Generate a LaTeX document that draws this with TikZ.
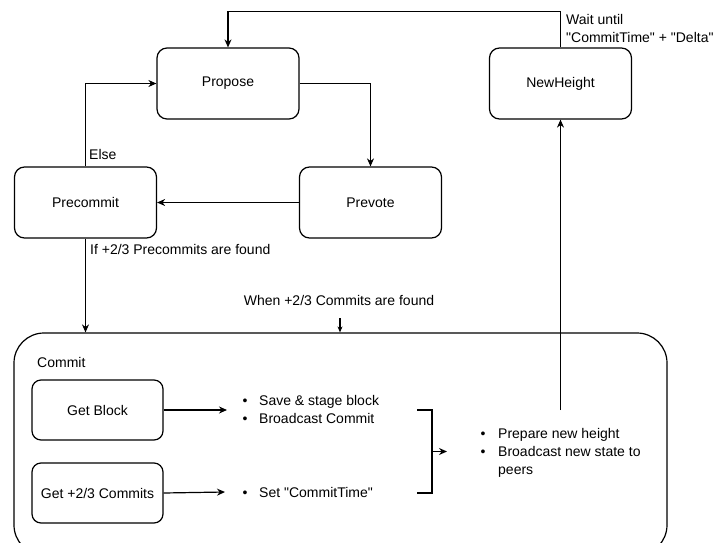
\documentclass[tikz,border=0pt]{standalone}
\usepackage{fontspec}
\setmainfont{Liberation Sans}
\usetikzlibrary{arrows.meta}
\newcommand{\sq}{\textquotedbl}
\begin{document}
\begin{tikzpicture}[x=1pt,y=-1pt,
  state/.style={draw, rounded corners=10pt, line width=1.2pt, minimum width=142pt, minimum height=71pt, font=\fontsize{14}{17}\selectfont},
  sub/.style={draw, rounded corners=9pt, line width=1.2pt, minimum width=131pt, minimum height=60pt, font=\fontsize{14}{17}\selectfont},
  lbl/.style={font=\fontsize{14}{18}\selectfont, inner sep=0pt, anchor=west, align=left},
  conn/.style={line width=1.2pt, -{Stealth[length=8pt,width=7pt]}},
  plain/.style={line width=1.2pt},
]
\useasboundingbox (0,0) rectangle (716,542);
\begin{scope}
\clip (0,0) rectangle (716,542);
\node[draw, rounded corners=30pt, line width=1.2pt, minimum width=653pt, minimum height=222pt] (commit) at (340.5,444) {};
\end{scope}

\node[state] (propose) at (228,83.5) {Propose};
\node[state] (newheight) at (560.5,83.5) {NewHeight};
\node[state] (precommit) at (85.5,202.5) {Precommit};
\node[state] (prevote) at (370.5,202.5) {Prevote};

\node[sub] (getblock) at (97.5,410) {Get Block};
\node[sub] (getcommits) at (97.5,493) {Get +2/3 Commits};

\node[lbl] (commitlbl) at (37,362) {Commit};
\node[lbl] (wait) at (566,28) {Wait until\\\sq CommitTime\sq{} + \sq Delta\sq};
\node[lbl] (else) at (89,154) {Else};
\node[lbl] (iflbl) at (90,249) {If +2/3 Precommits are found};
\node[lbl, anchor=center] (whenlbl) at (339,300) {When +2/3 Commits are found};

\node[lbl] (save) at (242.5,409) {\makebox[16.5pt][l]{\textbullet}Save \& stage block\\\makebox[16.5pt][l]{\textbullet}Broadcast Commit};
\node[lbl] (settime) at (242.5,492) {\makebox[16.5pt][l]{\textbullet}Set \sq CommitTime\sq};
\node[lbl] (prepare) at (480.5,453) {\makebox[17.5pt][l]{\textbullet}Prepare new height\\\makebox[17.5pt][l]{\textbullet}Broadcast new state to\\\hspace*{17.5pt}peers};

\coordinate (a1) at (227,410);
\coordinate (a2) at (225,492);
\coordinate (b1) at (417,410);
\coordinate (b2) at (432,410);
\coordinate (b3) at (432,493);
\coordinate (b4) at (417,493);
\coordinate (bm) at (432,451.5);
\coordinate (bt) at (447,451.5);
\coordinate (nhsrc) at (560.5,410);
\coordinate (w1) at (340,318);

\draw[conn] (newheight.north) -- ++(0,-36) -| (propose.north);
\draw[conn] (precommit.north) |- (propose.west);
\draw[conn] (propose.east) -| (prevote.north);
\draw[conn] (prevote.west) -- (precommit.east);
\draw[conn] (precommit.south) -- (precommit.south |- commit.north);
\draw[line width=1.2pt, -{Stealth[length=6pt,width=5pt]}] (w1) -- (w1 |- commit.north);
\draw[conn] (nhsrc) -- (newheight.south);
\draw[conn] (getblock.east) -- (a1);
\draw[conn] (getcommits.east) -- (a2);
\draw[plain] (b1) -- (b2) -- (b3) -- (b4);
\draw[conn] (bm) -- (bt);
\end{tikzpicture}
\end{document}
